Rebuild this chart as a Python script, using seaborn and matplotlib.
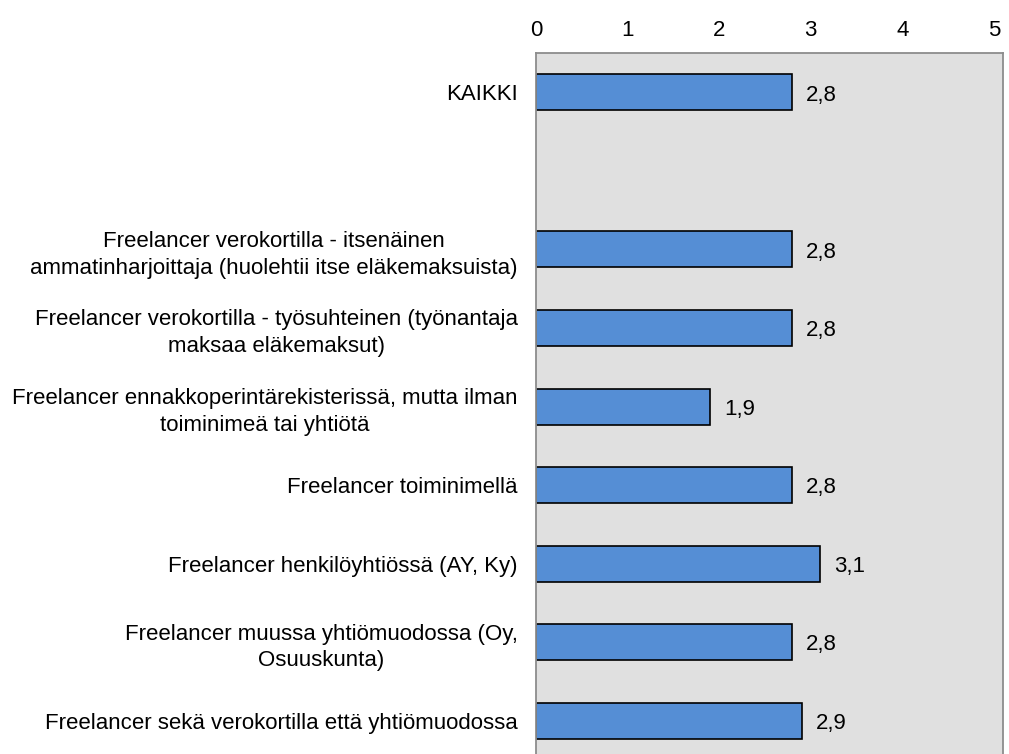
import matplotlib
matplotlib.use("Agg")
import matplotlib.pyplot as plt
import seaborn as sns
import pandas as pd

categories = [
    "KAIKKI",
    " ",
    "Freelancer verokortilla - itsenäinen\nammatinharjoittaja (huolehtii itse eläkemaksuista)",
    "Freelancer verokortilla - työsuhteinen (työnantaja\nmaksaa eläkemaksut)",
    "Freelancer ennakkoperintärekisterissä, mutta ilman\ntoiminimeä tai yhtiötä",
    "Freelancer toiminimellä",
    "Freelancer henkilöyhtiössä (AY, Ky)",
    "Freelancer muussa yhtiömuodossa (Oy,\nOsuuskunta)",
    "Freelancer sekä verokortilla että yhtiömuodossa",
]
values = [2.8, None, 2.8, 2.8, 1.9, 2.8, 3.1, 2.8, 2.9]
x_ticks = [0, 1, 2, 3, 4, 5]

df = pd.DataFrame({"ryhma": categories, "arvo": values})

sns.set_style("white")
plt.rcParams["font.family"] = ["Liberation Sans", "DejaVu Sans"]

fig = plt.figure(figsize=(10.09, 7.54), dpi=100)
ax = fig.add_axes([0.5312, -0.008, 0.4628, 0.9377])

sns.barplot(data=df, x="arvo", y="ryhma", order=categories, orient="h",
            color="#558ED5", saturation=1, width=0.458,
            edgecolor="black", linewidth=1.2, ax=ax)

ax.set_facecolor("#E0E0E0")
ax.set_xlim(0, 5.1)
ax.set_ylim(8.5, -0.5)
ax.set_xticks(x_ticks)
ax.set_xticklabels([str(t) for t in x_ticks])
ax.xaxis.tick_top()
ax.tick_params(axis="x", length=0, pad=9, labelsize=16, labelcolor="black")
ax.tick_params(axis="y", length=0, pad=13, labelsize=16, labelcolor="black")
for lbl in ax.get_yticklabels():
    lbl.set_multialignment("center")
    lbl.set_linespacing(1.35)
ax.set_xlabel("")
ax.set_ylabel("")

for sp in ax.spines.values():
    sp.set_color("#8C8C8C")
    sp.set_linewidth(1.3)

# arvot palkkien perään
for i, v in enumerate(values):
    if v is None:
        continue
    ax.annotate(f"{v:.1f}".replace(".", ","), (v, i), xytext=(10, -2),
                textcoords="offset points", va="center", ha="left",
                fontsize=16, color="black")

fig.savefig("out.png", dpi=100)
